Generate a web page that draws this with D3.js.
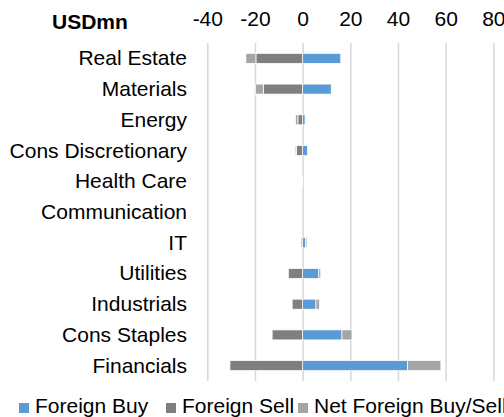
<!DOCTYPE html>
<html>
<head>
<meta charset="utf-8">
<script src="https://cdn.jsdelivr.net/npm/d3@7"></script>
<style>
  body { margin: 0; background: #fff; }
  svg { display: block; font-family: "Liberation Sans", Arial, sans-serif; }
</style>
</head>
<body>
<svg id="chart" width="504" height="417"></svg>
<script>
// sectors, top to bottom
const categories = ["Real Estate", "Materials", "Energy", "Cons Discretionary", "Health Care",
  "Communication", "IT", "Utilities", "Industrials", "Cons Staples", "Financials"];
// USDmn
const foreignBuy  = [16, 12, 1, 2, 0, 0, 1.2, 6.8, 5.6, 16.5, 44];
const foreignSell = [-19.6, -16.4, -2, -2.6, -0.3, 0, -0.6, -6, -4.4, -12.8, -30.5];
const netFlow     = [-4.2, -3.4, -1, -0.5, -0.3, 0, 0.6, 0.8, 1.5, 4.2, 14];
const tickValues = [-40, -20, 0, 20, 40, 60, 80];
const seriesNames = ["Foreign Buy", "Foreign Sell", "Net Foreign Buy/Sell"];
const seriesColors = ["#5b9bd5", "#7f7f7f", "#a5a5a5"];

const svg = d3.select("#chart");
const plotTop = 43, plotBottom = 381;
const fontSize = 21;

const rows = categories.map((c, i) => ({
  cat: c, buy: foreignBuy[i], sell: foreignSell[i], net: netFlow[i]
}));
const keys = ["buy", "sell", "net"];
const stacked = d3.stack()
  .keys(keys)
  .offset(d3.stackOffsetDiverging)(rows);

const x = d3.scaleLinear()
  .domain([-40, 80])
  .range([207.3, 493.3]);

const y = d3.scaleBand()
  .domain(categories)
  .range([plotTop, plotBottom])
  .paddingInner(0.674)
  .paddingOuter(0.337);

// gridlines
svg.append("g")
  .attr("transform", `translate(0, ${ plotTop })`)
  .call(d3.axisTop(x).tickValues(tickValues).tickSize(-(plotBottom - plotTop)).tickFormat(""))
  .call(g => g.select(".domain").remove())
  .call(g => g.selectAll("line").attr("stroke", "#d9d9d9").attr("stroke-width", 1.5));

// top tick labels (plain hyphen minus like the source)
svg.append("g")
  .attr("transform", `translate(0, ${ plotTop })`)
  .call(d3.axisTop(x).tickValues(tickValues).tickSize(0).tickPadding(17.3).tickFormat(d => String(d)))
  .call(g => g.select(".domain").remove())
  .call(g => g.selectAll("text")
    .attr("font-size", fontSize)
    .attr("font-family", "Liberation Sans, Arial, sans-serif")
    .attr("fill", "#000"));

svg.append("text")
  .attr("x", 52)
  .attr("y", 29)
  .attr("font-size", fontSize)
  .attr("font-weight", "bold")
  .text("USDmn");

// category labels
svg.append("g")
  .selectAll("text")
  .data(categories)
  .join("text")
    .attr("x", 187)
    .attr("y", d => y(d) + y.bandwidth() / 2 + 7)
    .attr("text-anchor", "end")
    .attr("font-size", fontSize)
    .attr("fill", "#000")
    .text(d => d);

// bars
svg.append("g")
  .selectAll("g")
  .data(stacked)
  .join("g")
    .attr("fill", (d, i) => seriesColors[i])
  .selectAll("rect")
  .data(d => d)
  .join("rect")
    .attr("x", d => x(Math.min(d[0], d[1])))
    .attr("y", d => y(d.data.cat))
    .attr("width", d => Math.abs(x(d[1]) - x(d[0])))
    .attr("height", y.bandwidth())
    .attr("stroke", "#fff")
    .attr("stroke-width", 0.75);

// legend
const legendX = [19, 166, 298];
const legend = svg.append("g")
  .selectAll("g")
  .data(seriesNames)
  .join("g")
    .attr("transform", (d, i) => `translate(${ legendX[i] }, 403)`);

legend.append("rect")
  .attr("width", 10)
  .attr("height", 10)
  .attr("fill", (d, i) => seriesColors[i]);

legend.append("text")
  .attr("x", 16)
  .attr("y", 9.5)
  .attr("font-size", fontSize)
  .attr("fill", "#000")
  .text(d => d);
</script>
</body>
</html>
